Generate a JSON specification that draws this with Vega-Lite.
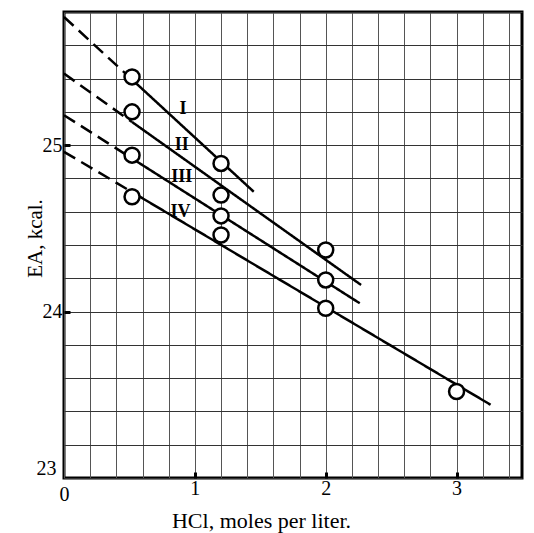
{
  "$schema": "https://vega.github.io/schema/vega-lite/v6.json",
  "width": 458,
  "height": 466,
  "autosize": {"type": "none"},
  "padding": {"left": 64, "top": 12, "right": 12, "bottom": 55},
  "background": "white",
  "config": {
    "view": {"stroke": "black", "strokeWidth": 3},
    "font": "Liberation Serif",
    "axisX": {
      "values": [0, 0.25, 0.5, 0.75, 1, 1.25, 1.5, 1.75, 2, 2.25, 2.5, 2.75, 3, 3.25],
      "labelExpr": "datum.value % 1 === 0 ? format(datum.value, 'd') : ''",
      "grid": true, "gridColor": "#555", "gridWidth": 1,
      "domain": false, "ticks": true, "tickColor": "black",
      "labelFont": "Liberation Serif", "labelFontSize": 20, "labelColor": "black",
      "labelPadding": 6, "labelFlush": false,
      "titleFont": "Liberation Serif", "titleFontSize": 22, "titleFontWeight": "normal",
      "titleColor": "black", "titleX": 197, "titleAlign": "center", "titleY": 49, "titleBaseline": "alphabetic"
    },
    "axisY": {
      "values": [23, 23.2, 23.4, 23.6, 23.8, 24, 24.2, 24.4, 24.6, 24.8, 25, 25.2, 25.4, 25.6],
      "labelExpr": "abs(datum.value - round(datum.value)) < 0.001 ? format(datum.value, 'd') : ''",
      "grid": true, "gridColor": "#333", "gridWidth": 1,
      "domain": false, "ticks": true, "tickColor": "black",
      "labelFont": "Liberation Serif", "labelFontSize": 20, "labelColor": "black",
      "labelPadding": 8, "labelFlush": false,
      "titleFont": "Liberation Serif", "titleFontSize": 21, "titleFontWeight": "normal",
      "titleColor": "black", "titleAngle": -90, "titleX": -23, "titleY": 226,
      "titleAlign": "center", "titleBaseline": "alphabetic"
    }
  },
  "datasets": {
    "lines": [
      {"series": "I", "part": "dash", "x": 0, "y": 25.77},
      {"series": "I", "part": "dash", "x": 0.52, "y": 25.394},
      {"series": "I", "part": "solid", "x": 0.52, "y": 25.394},
      {"series": "I", "part": "solid", "x": 1.45, "y": 24.72},
      {"series": "II", "part": "dash", "x": 0, "y": 25.43},
      {"series": "II", "part": "dash", "x": 0.52, "y": 25.139},
      {"series": "II", "part": "solid", "x": 0.52, "y": 25.139},
      {"series": "II", "part": "solid", "x": 2.27, "y": 24.16},
      {"series": "III", "part": "dash", "x": 0, "y": 25.18},
      {"series": "III", "part": "dash", "x": 0.52, "y": 24.92},
      {"series": "III", "part": "solid", "x": 0.52, "y": 24.92},
      {"series": "III", "part": "solid", "x": 2.26, "y": 24.05},
      {"series": "IV", "part": "dash", "x": 0, "y": 24.96},
      {"series": "IV", "part": "dash", "x": 0.52, "y": 24.718},
      {"series": "IV", "part": "solid", "x": 0.52, "y": 24.718},
      {"series": "IV", "part": "solid", "x": 3.26, "y": 23.44}
    ],
    "points": [
      {"x": 0.52, "y": 25.41},
      {"x": 0.52, "y": 25.2},
      {"x": 0.52, "y": 24.94},
      {"x": 0.52, "y": 24.69},
      {"x": 1.2, "y": 24.89},
      {"x": 1.2, "y": 24.7},
      {"x": 1.2, "y": 24.575},
      {"x": 1.2, "y": 24.46},
      {"x": 2.0, "y": 24.37},
      {"x": 2.0, "y": 24.19},
      {"x": 2.0, "y": 24.02},
      {"x": 3.0, "y": 23.52}
    ],
    "labels": [
      {"label": "I", "x": 0.91, "y": 25.22},
      {"label": "II", "x": 0.9, "y": 25.0},
      {"label": "III", "x": 0.9, "y": 24.81},
      {"label": "IV", "x": 0.89, "y": 24.6}
    ]
  },
  "layer": [
    {
      "data": {"name": "lines"},
      "mark": {"type": "line", "color": "black", "strokeWidth": 2.5},
      "encoding": {
        "x": {
          "field": "x", "type": "quantitative",
          "scale": {"domain": [0, 3.5], "nice": false, "zero": false},
          "title": "HCl, moles per liter.",
          "axis": {
            "tickSize": {"condition": {"test": "datum.value % 1 === 0 && datum.value > 0", "value": -6}, "value": 0},
            "tickWidth": {"condition": {"test": "datum.value % 1 === 0 && datum.value > 0", "value": 3}, "value": 0}
          }
        },
        "y": {
          "field": "y", "type": "quantitative",
          "scale": {"domain": [23, 25.8], "nice": false, "zero": false},
          "title": "EA, kcal.",
          "axis": {
            "labelBaseline": {"condition": {"test": "datum.value < 23.1", "value": "bottom"}, "value": "middle"},
            "tickSize": {"condition": {"test": "abs(datum.value - round(datum.value)) < 0.001 && datum.value > 23.5", "value": -6}, "value": 0},
            "tickWidth": {"condition": {"test": "abs(datum.value - round(datum.value)) < 0.001 && datum.value > 23.5", "value": 3}, "value": 0}
          }
        },
        "detail": {"field": "series"},
        "strokeDash": {
          "field": "part", "type": "nominal",
          "scale": {"domain": ["dash", "solid"], "range": [[13, 7], [1, 0]]},
          "legend": null
        }
      }
    },
    {
      "data": {"name": "points"},
      "mark": {"type": "point", "shape": "circle", "filled": true, "fill": "white", "stroke": "black", "strokeWidth": 2.5, "size": 225, "opacity": 1},
      "encoding": {
        "x": {"field": "x", "type": "quantitative"},
        "y": {"field": "y", "type": "quantitative"}
      }
    },
    {
      "data": {"name": "labels"},
      "mark": {"type": "text", "font": "Liberation Serif", "fontWeight": "bold", "fontSize": 18, "color": "black", "align": "center", "baseline": "middle"},
      "encoding": {
        "x": {"field": "x", "type": "quantitative"},
        "y": {"field": "y", "type": "quantitative"},
        "text": {"field": "label"}
      }
    }
  ]
}
